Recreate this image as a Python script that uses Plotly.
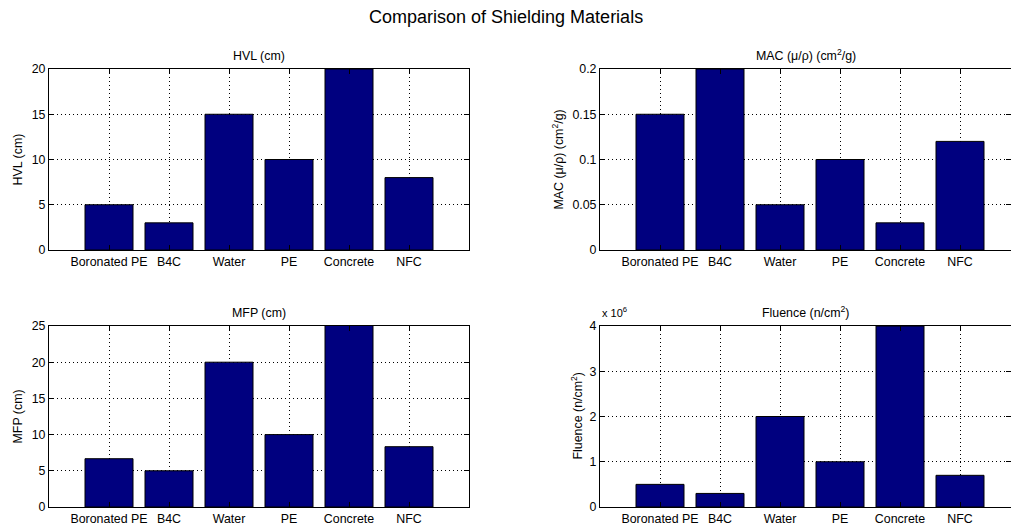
import plotly.graph_objects as go

materials = ["Boronated PE", "B4C", "Water", "PE", "Concrete", "NFC"]
hvl_cm = [5, 3, 15, 10, 20, 8]
mac_cm2_g = [0.15, 0.2, 0.05, 0.1, 0.03, 0.12]
mfp_cm = [6.67, 5, 20, 10, 33.33, 8.33]
fluence_n_cm2 = [0.5e6, 0.3e6, 2e6, 1e6, 4e6, 0.7e6]

hvl_ticks = [0, 5, 10, 15, 20]
mac_ticks = [0, 0.05, 0.1, 0.15, 0.2]
mfp_ticks = [0, 5, 10, 15, 20, 25]
fluence_ticks = [0, 1e6, 2e6, 3e6, 4e6]
fluence_ticktext = ["0", "1", "2", "3", "4"]

W, H = 1011, 527
FONT = "Liberation Sans, Arial, Helvetica, sans-serif"
BAR = "#00007F"
TS = 12.4

fig = go.Figure()

panels = [
    (hvl_cm, "x", "y", 49, 469, 69, 250, 6, [0, 20], hvl_ticks, None, "HVL (cm)", "HVL (cm)", 17),
    (mac_cm2_g, "x2", "y2", 600, 1011, 69, 250, None, [0, 0.2], mac_ticks, None,
     "MAC (μ/ρ) (cm<sup>2</sup>/g)", "MAC (μ/ρ) (cm<sup>2</sup>/g)", 557),
    (mfp_cm, "x3", "y3", 49, 469, 326, 507, 6, [0, 25], mfp_ticks, None, "MFP (cm)", "MFP (cm)", 17),
    (fluence_n_cm2, "x4", "y4", 600, 1011, 326, 507, None, [0, 4e6], fluence_ticks, fluence_ticktext,
     "Fluence (n/cm<sup>2</sup>)", "Fluence (n/cm<sup>2</sup>)", 576),
]

annotations = []
for i, (vals, xa, ya, x0, x1, yt, yb, xend, yr, tv, tt, title, ytitle, ytx) in enumerate(panels):
    fig.add_trace(go.Bar(x=materials, y=vals, xaxis=xa, yaxis=ya, width=0.8,
                         marker=dict(color=BAR, line=dict(color="#000000", width=1)),
                         showlegend=False))
    if xend is None:
        xend = -1 + (x1 - x0) / 60.0
    suffix = "" if i == 0 else str(i + 1)
    common = dict(showline=True, linecolor="#000000", linewidth=1, mirror="ticks",
                  ticks="inside", ticklen=5, tickcolor="#000000", tickwidth=1,
                  showgrid=True, gridcolor="#000000", griddash="1px,3px", gridwidth=1,
                  zeroline=False, tickfont=dict(family=FONT, size=TS, color="#000000"),
                  fixedrange=True, automargin=False)
    fig.layout["xaxis" + suffix] = dict(
        domain=[x0 / W, x1 / W], anchor=ya, type="category",
        range=[-1, xend], **common)
    yax = dict(domain=[1 - yb / H, 1 - yt / H], anchor=xa, range=yr,
               tickvals=tv, **common)
    if tt is not None:
        yax["ticktext"] = tt
    fig.layout["yaxis" + suffix] = yax
    annotations.append(dict(text=title, x=(x0 + min(x1, x0 + 420)) / 2 / W, y=1 - (yt - 4) / H,
                            xref="paper", yref="paper", xanchor="center", yanchor="bottom",
                            showarrow=False, font=dict(family=FONT, size=TS, color="#000000")))
    annotations.append(dict(text=ytitle, x=ytx / W, y=1 - (yt + yb) / 2 / H,
                            xref="paper", yref="paper", xanchor="center", yanchor="middle",
                            textangle=-90, showarrow=False,
                            font=dict(family=FONT, size=TS, color="#000000")))

annotations.append(dict(text="x 10<sup>6</sup>", x=600 / W, y=1 - 321 / H, xref="paper", yref="paper",
                        xanchor="left", yanchor="bottom", showarrow=False,
                        font=dict(family=FONT, size=11, color="#000000")))
annotations.append(dict(text="Comparison of Shielding Materials", x=0.5, y=1 - 17 / H,
                        xref="paper", yref="paper", xanchor="center", yanchor="middle",
                        showarrow=False, font=dict(family=FONT, size=18, color="#000000")))

fig.update_layout(width=W, height=H, margin=dict(l=0, r=0, t=0, b=0, autoexpand=False),
                  paper_bgcolor="#FFFFFF", plot_bgcolor="#FFFFFF",
                  annotations=annotations, bargap=0.2)

fig.write_html("out.html", config={"displayModeBar": False},
               post_script="document.body.style.margin='0';document.body.style.overflow='hidden';")
